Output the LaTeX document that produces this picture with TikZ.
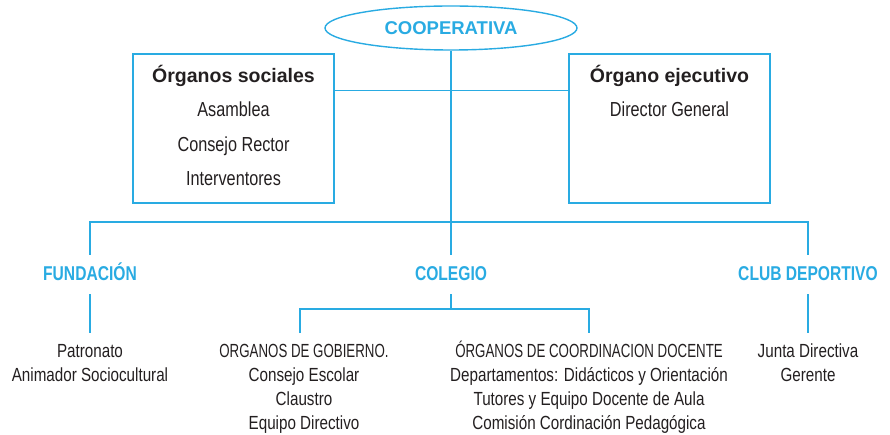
\documentclass[tikz,border=0pt]{standalone}
\usepackage{fontspec}
\setmainfont{Liberation Sans}[FakeStretch=0.8]
\newfontfamily\headfont{Liberation Sans}
\newfontfamily\labfont{Liberation Sans}[FakeStretch=0.78]
\newfontfamily\capfont{Liberation Sans}[FakeStretch=0.7]
\usetikzlibrary{shapes.geometric}
\definecolor{cyanline}{RGB}{41,171,226}
\definecolor{txt}{RGB}{35,31,32}
\begin{document}
\begin{tikzpicture}[x=1pt,y=-1pt,
  conn/.style={draw=cyanline, line width=1.4pt},
  boxnode/.style={draw=cyanline, line width=1.4pt, rectangle, minimum width=201pt, minimum height=149pt, inner sep=0pt},
  boxtext/.style={anchor=north, inner sep=0pt, align=center, text=txt, font=\fontsize{20.3}{34.5}\selectfont},
  lab/.style={anchor=base, text=cyanline, font=\labfont\bfseries\fontsize{20}{24}\selectfont, text height=15pt, text depth=4pt, inner xsep=0pt, inner ysep=10pt},
  leaf/.style={anchor=north, align=center, text=txt, inner xsep=0pt, inner ysep=7.7pt, font=\fontsize{19}{23.8}\selectfont}
]
\useasboundingbox (0,0) rectangle (890,435);
% top
\node[ellipse, draw=cyanline, line width=1.4pt, minimum width=252pt, minimum height=44pt, inner sep=0pt, text=cyanline, font=\headfont\bfseries\fontsize{18.5}{20}\selectfont] (coop) at (451,28) {COOPERATIVA};
% boxes
\node[boxnode] (soc) at (233.5,128.5) {};
\node[boxnode] (eje) at (669.5,128.5) {};
\node[boxtext] (soctxt) at (233.5,64.7) {\rule{0pt}{17pt}{\headfont\bfseries\fontsize{19.5}{34.5}\selectfont Órganos sociales}\\Asamblea\\Consejo Rector\\Interventores};
\node[boxtext] (ejetxt) at (669.5,64.7) {\rule{0pt}{17pt}{\headfont\bfseries\fontsize{19.5}{34.5}\selectfont Órgano ejecutivo}\\Director General};
% labels
\node[lab] (fund) at (90,280) {FUNDACIÓN};
\node[lab] (coleg) at (451,280) {COLEGIO};
\node[lab] (club) at (808,280) {CLUB DEPORTIVO};
% leaves
\node[leaf] (patr) at (90,333) {\rule{0pt}{17pt}Patronato\\Animador Sociocultural};
\node[leaf] (gob) at (304,333) {\rule{0pt}{17pt}{\capfont ORGANOS DE GOBIERNO.}\\Consejo Escolar\\Claustro\\Equipo Directivo};
\node[leaf] (coord) at (589,333) {\rule{0pt}{17pt}{\capfont ÓRGANOS DE COORDINACION DOCENTE}\\Departamentos: Didácticos y Orientación\\Tutores y Equipo Docente de Aula\\Comisión Cordinación Pedagógica};
\node[leaf] (junta) at (808,333) {\rule{0pt}{17pt}Junta Directiva\\Gerente};
% connectors
\coordinate (bus) at (451,222);
\coordinate (cbus) at (451,309);
\draw[conn] (coop.south) -- (coleg.north);
\draw[conn] ([yshift=-37pt]soc.north east) -- ([yshift=-37pt]eje.north west);
\draw[conn] (fund.north) -- (fund.north |- bus) -- (club.north |- bus) -- (club.north);
\draw[conn] (fund.south) -- (patr.north);
\draw[conn] (club.south) -- (junta.north);
\draw[conn] (coleg.south) -- (cbus);
\draw[conn] ([xshift=-4pt]gob.north) -- ([xshift=-4pt]gob.north |- cbus) -- (coord.north |- cbus) -- (coord.north);
\end{tikzpicture}
\end{document}
